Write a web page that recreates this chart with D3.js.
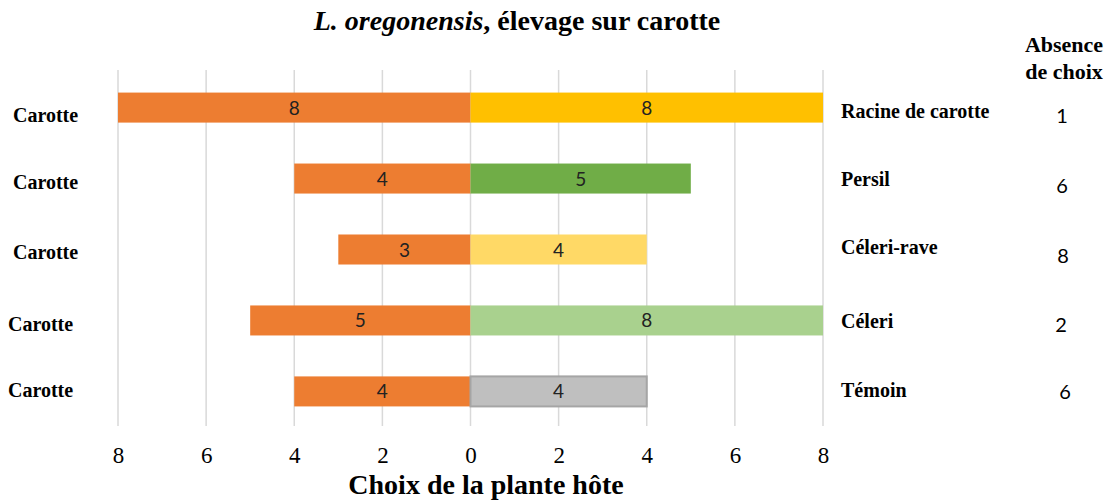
<!DOCTYPE html>
<html><head><meta charset="utf-8">
<script src="https://cdn.jsdelivr.net/npm/d3@7"></script>
<style>body{margin:0;background:#fff}svg{display:block}</style>
</head><body>
<svg id="c" width="1112" height="501"></svg>
<script>
const categories = ["Racine de carotte","Persil","Céleri-rave","Céleri","Témoin"];
const leftLabel = "Carotte";
const carotteValues = [8,4,3,5,4];
const otherValues = [8,5,4,8,4];
const absenceValues = [1,6,8,2,6];
const tickValues = [-8,-6,-4,-2,0,2,4,6,8];
const otherColors = ["#FFC000","#70AD47","#FFD966","#A9D18E","#BFBFBF"];
const otherStroke = [null,null,null,null,"#A5A5A5"];
const carotteColor = "#ED7D31";

const svg = d3.select("#c");
const x = d3.scaleLinear().domain([-8,8]).range([118,823]);
const y = d3.scaleBand().domain(categories).range([72,427]).paddingInner(0.577).paddingOuter(0.29);
const serif = "'Liberation Serif','Times New Roman',serif";
const sans = "Lato,'Open Sans',sans-serif";
const mid = c => y(c)+y.bandwidth()/2;

// gridlines
svg.append("g").selectAll("line").data(tickValues).join("line")
  .attr("x1",d=>x(d)).attr("x2",d=>x(d)).attr("y1",70).attr("y2",426)
  .attr("stroke","#d9d9d9").attr("stroke-width",1.5);

// bars
const rows = categories.map((c,i)=>({c,i,l:carotteValues[i],r:otherValues[i]}));
svg.append("g").selectAll("rect").data(rows).join("rect")
  .attr("x",d=>x(-d.l)).attr("width",d=>x(0)-x(-d.l))
  .attr("y",d=>y(d.c)).attr("height",y.bandwidth()).attr("fill",carotteColor);
svg.append("g").selectAll("rect").data(rows).join("rect")
  .attr("x",x(0)).attr("width",d=>x(d.r)-x(0))
  .attr("y",d=>y(d.c)).attr("height",y.bandwidth()).attr("fill",d=>otherColors[d.i])
  .attr("stroke",d=>otherStroke[d.i]||"none").attr("stroke-width",2);

// value labels
const vl = svg.append("g").attr("font-family",sans).attr("font-size",19).attr("fill","#222").attr("text-anchor","middle");
vl.selectAll("text.l").data(rows).join("text").attr("class","l")
  .attr("x",d=>x(-d.l/2)).attr("y",d=>mid(d.c)+7).text(d=>d.l);
vl.selectAll("text.r").data(rows).join("text").attr("class","r")
  .attr("x",d=>x(d.r/2)).attr("y",d=>mid(d.c)+7).text(d=>d.r);

// left labels
const leftX = [13,13,13,8,8];
const leftDy = [14.5,10.5,9.5,10.5,5.5];
svg.append("g").selectAll("text").data(rows).join("text")
  .attr("x",d=>leftX[d.i]).attr("y",d=>mid(d.c)+leftDy[d.i])
  .style("font-family",serif).attr("font-weight","bold").attr("font-size",20).text(leftLabel);

// right labels
const rightDy = [10.5,7.5,4.5,7.5,5.5];
svg.append("g").selectAll("text").data(rows).join("text")
  .attr("x",841).attr("y",d=>mid(d.c)+rightDy[d.i])
  .style("font-family",serif).attr("font-weight","bold").attr("font-size",20).text(d=>d.c);

// absence
const absX = [1062,1062,1063,1061,1065];
const absDy = [15.5,14.5,13.5,11.5,7.5];
svg.append("g").selectAll("text").data(rows).join("text")
  .attr("x",d=>absX[d.i]).attr("y",d=>mid(d.c)+absDy[d.i]).attr("text-anchor","middle")
  .style("font-family",sans).attr("font-size",20).text(d=>absenceValues[d.i]);
svg.append("text").attr("x",1064).attr("y",52).attr("text-anchor","middle")
  .style("font-family",serif).attr("font-weight","bold").attr("font-size",22).text("Absence");
svg.append("text").attr("x",1064).attr("y",79).attr("text-anchor","middle")
  .style("font-family",serif).attr("font-weight","bold").attr("font-size",22).text("de choix");

// axis
const axis = d3.axisBottom(x).tickValues(tickValues).tickFormat(d=>Math.abs(d)).tickSize(0).tickPadding(0);
const ag = svg.append("g").attr("transform","translate(0,463)").call(axis)
  .attr("font-family",serif).attr("font-size",23);
ag.select(".domain").remove();
ag.selectAll("text").style("font-family",serif).style("font-size","23px").attr("fill","#000").attr("dy",0);

// titles
const t = svg.append("text").attr("x",517).attr("y",30).attr("text-anchor","middle")
  .style("font-family",serif).attr("font-weight","bold").attr("font-size",28);
t.append("tspan").style("font-family",serif).attr("font-style","italic").text("L. oregonensis");
t.append("tspan").text(", élevage sur carotte");
svg.append("text").attr("x",486).attr("y",494).attr("text-anchor","middle")
  .style("font-family",serif).attr("font-weight","bold").attr("font-size",28).text("Choix de la plante hôte");
</script>
</body></html>
